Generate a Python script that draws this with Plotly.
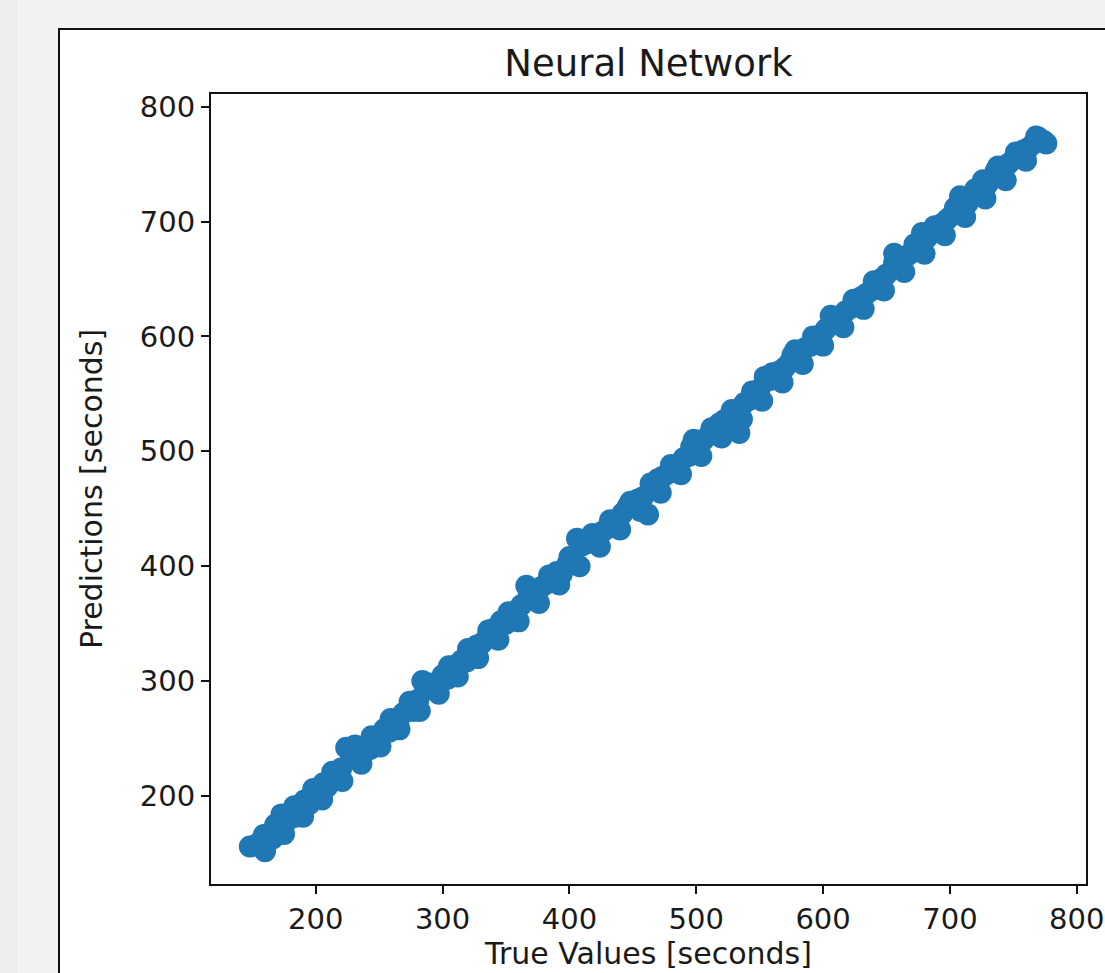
import plotly.graph_objects as go

# Data (true values vs network predictions, seconds)
true_values = [
    148, 152, 156, 159, 163, 166, 170, 173, 177, 180, 184, 188, 191, 195, 198,
    202, 206, 209, 213, 217, 220, 224, 228, 231, 235, 239, 243, 246, 250, 254,
    258, 262, 265, 269, 273, 277, 281, 284, 288, 292, 296, 300, 304, 307, 311,
    315, 319, 323, 327, 331, 335, 339, 343, 346, 350, 354, 358, 362, 366, 370,
    374, 378, 382, 386, 390, 394, 398, 402, 406, 410, 414, 418, 422, 426, 430,
    434, 438, 442, 446, 450, 454, 458, 462, 466, 470, 474, 478, 482, 486, 490,
    494, 498, 502, 506, 510, 514, 518, 522, 526, 530, 534, 538, 542, 546, 550,
    554, 558, 562, 566, 570, 574, 578, 582, 586, 590, 594, 598, 602, 606, 610,
    614, 618, 622, 626, 630, 634, 638, 642, 646, 650, 656, 658, 662, 666, 670,
    674, 678, 682, 686, 690, 694, 698, 702, 708, 710, 714, 718, 722, 726, 730,
    734, 738, 742, 746, 750, 754, 758, 762, 766, 770, 774, 776,
    160, 175, 190, 205, 221, 236, 251, 266, 282, 297, 312, 328, 344, 360, 376,
    392, 408, 424, 440, 456, 472, 488, 504, 520, 536, 552, 568, 584, 600, 616,
    632, 648, 664, 680, 696, 712, 728, 744, 760,
    168, 183, 198, 213, 229, 244, 259, 274, 290, 305, 320, 336, 352, 368, 384,
    400, 416, 432, 448, 464, 480, 496, 512, 528, 544, 560, 576, 592, 608, 624,
    640, 656, 672, 688, 704, 720, 736, 752, 768,
]
predictions = [
    156, 157, 160, 166, 167, 163, 176, 184, 178, 183, 182, 192, 196, 193, 203,
    200, 211, 208, 217, 214, 224, 242, 233, 244, 238, 243, 241, 250, 252, 258,
    256, 266, 263, 272, 276, 274, 284, 300, 296, 295, 294, 305, 302, 312, 314,
    318, 317, 328, 331, 333, 337, 345, 341, 352, 350, 358, 361, 366, 383, 378,
    377, 382, 385, 388, 395, 393, 401, 404, 424, 418, 420, 428, 426, 430, 433,
    437, 441, 446, 452, 455, 458, 460, 445, 472, 476, 478, 481, 485, 488, 494,
    496, 510, 506, 510, 514, 516, 524, 527, 530, 534, 516, 542, 545, 550, 554,
    565, 562, 566, 570, 573, 578, 588, 586, 590, 592, 597, 601, 606, 618, 614,
    618, 622, 625, 629, 634, 637, 640, 646, 650, 654, 672, 662, 666, 670, 673,
    677, 690, 686, 690, 694, 698, 702, 706, 722, 714, 716, 722, 726, 736, 733,
    738, 748, 745, 750, 754, 758, 762, 764, 768, 773, 770, 768,
    152, 167, 182, 197, 213, 228, 243, 258, 274, 289, 304, 320, 336, 352, 368,
    384, 400, 417, 432, 448, 464, 480, 496, 512, 528, 544, 560, 576, 592, 608,
    624, 640, 656, 672, 688, 704, 720, 736, 753,
    175, 191, 206, 221, 237, 252, 267, 282, 298, 313, 328, 344, 360, 376, 392,
    408, 424, 440, 456, 472, 488, 504, 520, 536, 552, 568, 584, 600, 616, 632,
    648, 664, 680, 696, 712, 728, 744, 760, 774,
]
tick_values = [200, 300, 400, 500, 600, 700, 800]
tick_labels = ["200", "300", "400", "500", "600", "700", "800"]

title_text = "Neural Network"
x_title = "True Values [seconds]"
y_title = "Predictions [seconds]"

FONT = "DejaVu Sans"
TXT = "#1a1a1a"

fig = go.Figure(
    go.Scatter(
        x=true_values,
        y=predictions,
        mode="markers",
        marker=dict(color="#1f77b4", size=22, line=dict(width=0)),
        showlegend=False,
        hoverinfo="skip",
    )
)

W, H = 1105, 973
L, R, T, B = 211, 19, 94, 89
pw, ph = W - L - R, H - T - B


def px_x(p):
    return (p - L) / pw


def px_y(p):
    return 1 - (p - T) / ph


axis_common = dict(
    automargin=False,
    showline=True,
    mirror=True,
    linecolor="#111111",
    linewidth=2,
    ticks="outside",
    ticklen=8,
    tickwidth=2,
    tickcolor="#111111",
    showgrid=False,
    zeroline=False,
    tickvals=tick_values,
    ticktext=tick_labels,
    tickfont=dict(family=FONT, size=29, color=TXT),
)

fig.update_layout(
    width=W,
    height=H,
    margin=dict(l=L, r=R, t=T, b=B, autoexpand=False),
    paper_bgcolor="#f2f2f2",
    plot_bgcolor="white",
    title=dict(
        text=title_text,
        x=0.5 * (L + W - R) / W,
        xanchor="center",
        y=1 - 63 / H,
        yanchor="middle",
        yref="container",
        font=dict(family=FONT, size=37, color=TXT),
    ),
    xaxis=dict(
        range=[117.4, 807.3],
        title=dict(text=x_title, font=dict(family=FONT, size=30, color=TXT), standoff=4),
        **axis_common,
    ),
    yaxis=dict(
        range=[123.4, 811.0],
        title=dict(text=y_title, font=dict(family=FONT, size=30, color=TXT), standoff=28),
        **axis_common,
    ),
    shapes=[
        dict(type="rect", xref="paper", yref="paper", layer="below",
             x0=px_x(0), x1=px_x(18), y0=px_y(H + 20), y1=px_y(-20),
             fillcolor="#ededed", line=dict(width=0)),
        dict(type="rect", xref="paper", yref="paper", layer="below",
             x0=px_x(59), x1=px_x(W + 30), y0=px_y(H + 30), y1=px_y(29),
             fillcolor="white", line=dict(color="#111111", width=2)),
    ],
)

fig.write_html(
    "out.html",
    config={"displayModeBar": False},
    post_script="document.body.style.margin='0';document.body.style.overflow='hidden';",
)
